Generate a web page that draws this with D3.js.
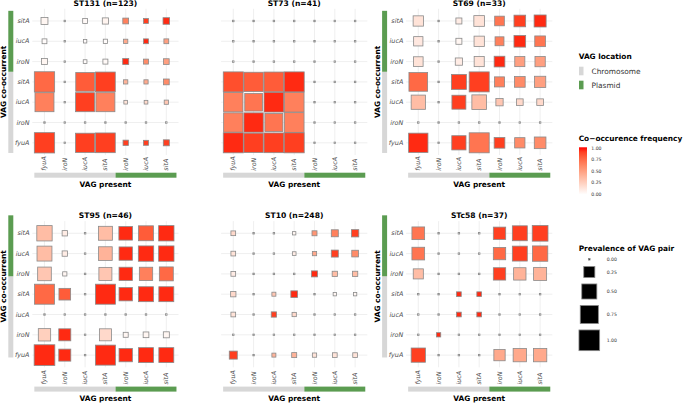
<!DOCTYPE html>
<html><head><meta charset="utf-8">
<script src="https://cdn.jsdelivr.net/npm/d3@7"></script>
<style>body{margin:0;background:#fff}svg{display:block}text{font-family:"DejaVu Sans",sans-serif}</style>
</head><body><svg id="c" width="683" height="403"></svg>
<script>
// ---- data ----
const genes = ["fyuA","iroN","iucA","sitA","iroN","iucA","sitA"];
const locations = ["Chromosome","Chromosome","Chromosome","Chromosome","Plasmid","Plasmid","Plasmid"];
const panelTitles = ["ST131 (n=123)","ST73 (n=41)","ST69 (n=33)","ST95 (n=46)","ST10 (n=248)","STc58 (n=37)"];
const locationLevels = ["Chromosome","Plasmid"];
const freqTicks = [0,0.25,0.5,0.75,1];
const prevTicks = [0,0.25,0.5,0.75,1];
// matrices: rows listed top-down (sitA plasmid ... fyuA chromosome), columns in gene order
const prev_ST131 = [
 [0.08,0,0.03,0.06,0.05,0.03,0.07],
 [0.03,0,0.01,0.02,0.02,0.03,0.03],
 [0.055,0,0.013,0.033,0.055,0.033,0.048],
 [0.96,0,0.80,0.90,0.02,0.02,0.05],
 [0.83,0,0.83,0.83,0.013,0.013,0.02],
 [0,0,0,0,0,0,0],
 [0.96,0,0.85,0.90,0.04,0.033,0.055]];
const freq_ST131 = [
 [0.05,0,0.03,0.06,0.65,0.9,0.95],
 [0.02,0,0.02,0.02,0.45,0.95,0.5],
 [0.05,0,0.02,0.03,0.95,0.6,0.5],
 [0.75,0,0.8,0.9,0.4,0.45,0.6],
 [0.65,0,0.9,0.65,0.15,0.2,0.3],
 [0,0,0,0,0,0,0],
 [0.9,0,0.9,0.9,0.9,0.9,0.9]];
const prev_ST73 = [
 [0,0,0,0,0,0,0],
 [0,0,0,0,0,0,0],
 [0,0,0,0,0,0,0],
 [0.93,0.86,0.90,0.93,0,0,0],
 [0.86,0.71,0.90,0.90,0,0,0],
 [0.86,0.86,0.74,0.90,0,0,0],
 [0.93,0.86,0.90,0.93,0,0,0]];
const freq_ST73 = [
 [0,0,0,0,0,0,0],
 [0,0,0,0,0,0,0],
 [0,0,0,0,0,0,0],
 [0.85,0.8,0.8,0.95,0,0,0],
 [0.65,0.7,0.95,0.65,0,0,0],
 [0.65,0.95,0.7,0.65,0,0,0],
 [0.95,0.9,0.9,0.9,0,0,0]];
const prev_ST69 = [
 [0.21,0,0.055,0.23,0.18,0.28,0.30],
 [0.165,0,0.055,0.21,0.15,0.28,0.23],
 [0.18,0,0.09,0.20,0.23,0.20,0.21],
 [0.80,0,0.49,0.93,0.20,0.23,0.26],
 [0.44,0,0.42,0.47,0.09,0.073,0.073],
 [0,0,0,0,0,0,0],
 [0.86,0,0.44,0.93,0.23,0.21,0.28]];
const freq_ST69 = [
 [0.15,0,0.1,0.15,0.7,0.9,0.95],
 [0.12,0,0.05,0.15,0.65,0.95,0.7],
 [0.15,0,0.1,0.15,0.95,0.5,0.5],
 [0.75,0,0.9,0.9,0.65,0.6,0.5],
 [0.35,0,0.9,0.35,0.3,0.2,0.2],
 [0,0,0,0,0,0,0],
 [0.95,0,0.9,0.7,0.9,0.6,0.6]];
const prev_ST95 = [
 [0.52,0.04,0,0.42,0.40,0.49,0.52],
 [0.49,0.04,0,0.40,0.38,0.52,0.52],
 [0.40,0.02,0,0.36,0.38,0.38,0.42],
 [0.93,0.28,0,0.93,0.38,0.49,0.49],
 [0,0,0,0,0,0,0],
 [0.32,0.30,0,0.30,0.033,0.048,0.055],
 [1.0,0.30,0,0.93,0.38,0.49,0.49]];
const freq_ST95 = [
 [0.35,0.1,0,0.35,0.95,0.8,0.95],
 [0.35,0.1,0,0.4,0.95,0.95,0.95],
 [0.3,0.05,0,0.3,0.95,0.65,0.75],
 [0.75,0.8,0,0.95,0.95,0.95,0.95],
 [0,0,0,0,0,0,0],
 [0.25,0.95,0,0.2,0.05,0.05,0.05],
 [0.95,0.95,0,0.95,0.95,0.95,0.95]];
const prev_ST10 = [
 [0.028,0,0,0.009,0.033,0.082,0.091],
 [0.028,0,0,0.013,0.021,0.082,0.073],
 [0.028,0,0,0,0.055,0.039,0.039],
 [0.039,0,0.017,0.073,0,0.009,0.009],
 [0.028,0,0.039,0.021,0,0,0],
 [0,0,0,0,0,0,0],
 [0.115,0,0.017,0.033,0.021,0.028,0.028]];
const freq_ST10 = [
 [0.2,0,0,0.05,0.55,0.65,0.9],
 [0.15,0,0,0.1,0.45,0.9,0.6],
 [0.1,0,0,0,0.95,0.35,0.35],
 [0.2,0,0.3,0.95,0,0.05,0.05],
 [0.15,0,0.9,0.2,0,0,0],
 [0,0,0,0,0,0,0],
 [0.9,0,0.4,0.4,0.15,0.15,0.15]];
const prev_STc58 = [
 [0.34,0,0,0,0.32,0.49,0.55],
 [0.34,0,0,0,0.32,0.49,0.52],
 [0.20,0,0,0,0.32,0.32,0.36],
 [0,0,0.028,0.028,0,0,0],
 [0,0,0.028,0.028,0,0,0],
 [0,0.021,0,0,0,0,0],
 [0.44,0,0,0,0.26,0.38,0.38]];
const freq_STc58 = [
 [0.7,0,0,0,0.9,0.9,0.9],
 [0.7,0,0,0,0.75,0.9,0.75],
 [0.35,0,0,0,0.9,0.4,0.4],
 [0,0,0.95,0.95,0,0,0],
 [0,0,0.95,0.95,0,0,0],
 [0,0.95,0,0,0,0,0],
 [0.9,0,0,0,0.45,0.45,0.45]];
const prevMats = [prev_ST131, prev_ST73, prev_ST69, prev_ST95, prev_ST10, prev_STc58];
const freqMats = [freq_ST131, freq_ST73, freq_ST69, freq_ST95, freq_ST10, freq_STc58];

// ---- layout ----
const svg = d3.select("#c");
const panelLefts = [32.3, 221.1, 406.1];
const rowTops = [8.8, 221.1];
const P = 146.2;
const yBarShift = [0, -7.8];
const botShift = [0, 1.6];
const locColor = d3.scaleOrdinal().domain(locationLevels).range(["#d7d7d7","#5b9c51"]);
const fill = d3.scaleLinear().domain([0,1]).range(["#ffffff","#ff0000"]).interpolate(d3.interpolateLab);
const side = d3.scaleSqrt().domain([0,1]).range([1.5,20.7]);
const idx = d3.range(genes.length);

panelTitles.forEach((title, pi) => {
  const col = pi % 3, row = Math.floor(pi / 3);
  const L = panelLefts[col], T = rowTops[row], B = T + P;
  const g = svg.append("g");
  const x = d3.scalePoint().domain(idx).range([L, L + P]).padding(0.6);
  const y = d3.scalePoint().domain(idx).range([B, T]).padding(0.6);
  const step = x.step();
  // grid
  g.selectAll(".gv").data(idx).join("line")
    .attr("x1", d => x(d)).attr("x2", d => x(d)).attr("y1", T).attr("y2", B)
    .attr("stroke", "#ebebeb").attr("stroke-width", 0.8);
  g.selectAll(".gh").data(idx).join("line")
    .attr("y1", d => y(d)).attr("y2", d => y(d)).attr("x1", L).attr("x2", L + P)
    .attr("stroke", "#ebebeb").attr("stroke-width", 0.8);
  // cells
  const cells = [];
  prevMats[pi].forEach((r, ri) => r.forEach((v, ci) => cells.push({yi: genes.length - 1 - ri, xi: ci, p: v, f: freqMats[pi][ri][ci]})));
  g.selectAll(".cell").data(cells).join("rect")
    .attr("x", d => x(d.xi) - side(d.p) / 2).attr("y", d => y(d.yi) - side(d.p) / 2)
    .attr("width", d => side(d.p)).attr("height", d => side(d.p))
    .attr("fill", d => fill(d.f)).attr("stroke", "#8a8a8a").attr("stroke-width", 0.8);
  // title
  g.append("text").attr("x", L + P / 2).attr("y", T - 3.3).attr("text-anchor", "middle")
    .attr("font-size", 7.6).attr("font-weight", "bold").text(title);
  // x tick labels
  g.selectAll(".xl").data(idx).join("text")
    .attr("transform", d => `translate(${x(d)},${B + 15.7 + botShift[row]}) rotate(-90)`)
    .attr("dominant-baseline", "central").attr("font-size", 6.4).attr("font-style", "italic")
    .attr("fill", "#4d4d4d").text(d => genes[d]);
  // x location bar
  const xb0 = x(0) - step * 0.6;
  locationLevels.forEach(loc => {
    const ii = idx.filter(i => locations[i] === loc);
    const a = Math.max(x(ii[0]) - step / 2, xb0), b = Math.min(x(ii[ii.length - 1]) + step / 2, L + P);
    g.append("rect").attr("x", a).attr("width", b - a).attr("y", B + 17.7 + botShift[row]).attr("height", 5)
      .attr("fill", locColor(loc));
  });
  g.append("text").attr("x", L + P / 2).attr("y", B + 32 + botShift[row] * 1.3).attr("text-anchor", "middle")
    .attr("font-size", 7.4).attr("font-weight", "bold").text("VAG present");
  if (col !== 1) {
    g.selectAll(".yl").data(idx).join("text")
      .attr("x", L - 2.8).attr("y", d => y(d)).attr("text-anchor", "end").attr("dominant-baseline", "central")
      .attr("font-size", 6.4).attr("font-style", "italic").attr("fill", "#4d4d4d").text(d => genes[d]);
    const s = yBarShift[row];
    locationLevels.forEach(loc => {
      const ii = idx.filter(i => locations[i] === loc);
      const a = Math.min(y(ii[0]) + step / 2, B), b = Math.max(y(ii[ii.length - 1]) - step / 2, T);
      g.append("rect").attr("x", L - 24).attr("width", 5).attr("y", b + s).attr("height", a - b)
        .attr("fill", locColor(loc));
    });
    g.append("text").attr("transform", `translate(${L - 29},${(T + B) / 2 + s}) rotate(-90)`)
      .attr("text-anchor", "middle").attr("dominant-baseline", "central")
      .attr("font-size", 7.4).attr("font-weight", "bold").text("VAG co-occurrent");
  }
});

// ---- legends ----
const LX = 578.7;
const lg = svg.append("g");
lg.append("text").attr("x", LX).attr("y", 58.8).attr("font-size", 7.4).attr("font-weight", "bold").text("VAG location");
locationLevels.forEach((loc, i) => {
  lg.append("rect").attr("x", 579).attr("y", 66.7 + i * 14).attr("width", 4.5).attr("height", 8.6).attr("fill", locColor(loc));
  lg.append("text").attr("x", 591.5).attr("y", 71 + i * 14).attr("dominant-baseline", "central")
    .attr("font-size", 7.4).attr("fill", "#333").text(loc);
});
lg.append("text").attr("x", LX).attr("y", 141).attr("font-size", 7.4).attr("font-weight", "bold").text("Co\u2212occurence frequency");
const defs = svg.append("defs");
const grad = defs.append("linearGradient").attr("id", "fg").attr("x1", 0).attr("x2", 0).attr("y1", 1).attr("y2", 0);
d3.range(0, 1.0001, 0.1).forEach(t => grad.append("stop").attr("offset", t).attr("stop-color", fill(t)));
const cb = d3.scaleLinear().domain([0, 1]).range([194, 148.6]);
lg.append("rect").attr("x", 579).attr("y", 147.3).attr("width", 8).attr("height", 47.3).attr("fill", "url(#fg)");
lg.selectAll(".ft").data(freqTicks).join("text").attr("x", 591.3).attr("y", d => cb(d))
  .attr("dominant-baseline", "central").attr("font-size", 4.6).attr("fill", "#333").text(d => d.toFixed(2));
lg.append("text").attr("x", LX).attr("y", 251).attr("font-size", 7.4).attr("font-weight", "bold").text("Prevalence of VAG pair");
let cy = 259.3, prevH = null;
prevTicks.forEach(v => {
  const s = side(v), h = s + 6.4;
  if (prevH !== null) cy += (prevH + h) / 2;
  prevH = h;
  lg.append("rect").attr("x", 589.3 - s / 2).attr("y", cy - s / 2).attr("width", s).attr("height", s)
    .attr("fill", "#000").attr("stroke", "#8a8a8a").attr("stroke-width", 0.8);
  lg.append("text").attr("x", 606.7).attr("y", cy).attr("dominant-baseline", "central")
    .attr("font-size", 4.6).attr("fill", "#333").text(v.toFixed(2));
});
</script></body></html>
